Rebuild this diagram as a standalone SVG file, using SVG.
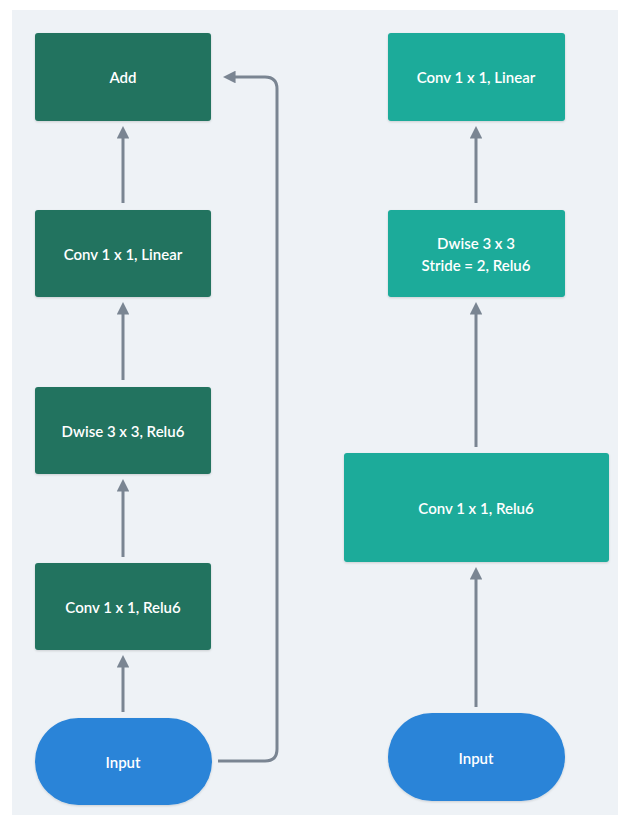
<svg xmlns="http://www.w3.org/2000/svg" width="618" height="820" viewBox="0 0 618 820">
<style>
.bg{fill:#eef2f6}
.dark{fill:#21735f}
.teal{fill:#1aab9a}
.blue{fill:#2a84d8}
.lbl{font-family:Lato,"Open Sans","Liberation Sans",sans-serif;font-size:15px;fill:#ffffff;text-anchor:middle;dominant-baseline:central;font-weight:600}
.conn{fill:none;stroke:#7a8592;stroke-width:3;marker-end:url(#ah)}
</style>
<defs>
<marker id="ah" viewBox="0 0 10 10" refX="6" refY="5" markerWidth="4.2" markerHeight="4.2" orient="auto" markerUnits="strokeWidth">
<path d="M0,0 L10,5 L0,10 Z" fill="#7a8592"/>
</marker>
<filter id="sh" x="-10%" y="-10%" width="120%" height="130%">
<feDropShadow dx="0" dy="1" stdDeviation="1" flood-color="#000" flood-opacity="0.15"/>
</filter>
</defs>
<rect class="bg" x="12" y="10" width="606" height="805"/>
<g id="add"><rect class="dark" x="35" y="33" width="176" height="88" rx="3" filter="url(#sh)"/><text class="lbl" x="123" y="77">Add</text></g>
<g id="l_conv_linear"><rect class="dark" x="35" y="210" width="176" height="87" rx="3" filter="url(#sh)"/><text class="lbl" x="123" y="254">Conv 1 x 1, Linear</text></g>
<g id="l_dwise"><rect class="dark" x="35" y="387" width="176" height="87" rx="3" filter="url(#sh)"/><text class="lbl" x="123" y="431">Dwise 3 x 3, Relu6</text></g>
<g id="l_conv_relu6"><rect class="dark" x="35" y="563" width="176" height="87" rx="3" filter="url(#sh)"/><text class="lbl" x="123" y="607">Conv 1 x 1, Relu6</text></g>
<g id="l_input"><rect class="blue" x="35" y="718" width="177" height="87" rx="43.5" filter="url(#sh)"/><text class="lbl" x="123" y="762">Input</text></g>
<g id="r_conv_linear"><rect class="teal" x="388" y="33" width="177" height="88" rx="3" filter="url(#sh)"/><text class="lbl" x="476" y="77">Conv 1 x 1, Linear</text></g>
<g id="r_dwise"><rect class="teal" x="388" y="210" width="177" height="87" rx="3" filter="url(#sh)"/><text class="lbl" x="476" y="243">Dwise 3 x 3</text><text class="lbl" x="476" y="265">Stride = 2, Relu6</text></g>
<g id="r_conv_relu6"><rect class="teal" x="344" y="453" width="265" height="109" rx="3" filter="url(#sh)"/><text class="lbl" x="476" y="508">Conv 1 x 1, Relu6</text></g>
<g id="r_input"><rect class="blue" x="388" y="713" width="177" height="88" rx="44" filter="url(#sh)"/><text class="lbl" x="476" y="758">Input</text></g>
<g id="connectors">
<path class="conn" d="M123,712 V660"/>
<path class="conn" d="M123,557 V484"/>
<path class="conn" d="M123,380 V307"/>
<path class="conn" d="M123,203 V131"/>
<path class="conn" d="M218,761 H265 Q277,761 277,749 V89 Q277,77 265,77 H228"/>
<path class="conn" d="M476,707 V572"/>
<path class="conn" d="M476,447 V307"/>
<path class="conn" d="M476,203 V131"/>
</g>
</svg>
